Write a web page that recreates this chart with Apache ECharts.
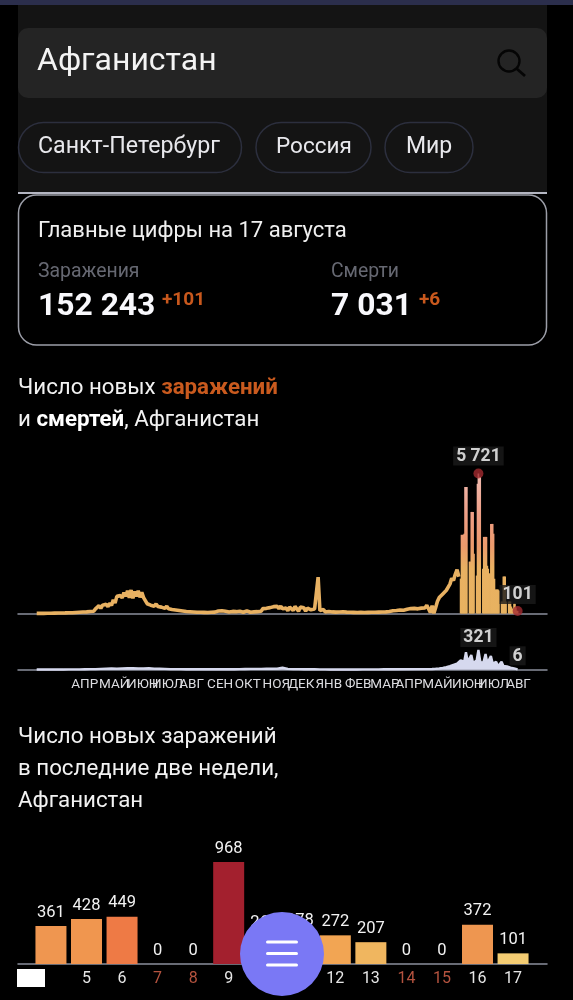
<!DOCTYPE html>
<html><head><meta charset="utf-8">
<style>html,body{margin:0;padding:0;background:#000}#c{width:573px;height:1000px}</style>
<script src="https://cdn.jsdelivr.net/npm/echarts@6/dist/echarts.min.js"></script>
</head><body><div id="c"></div>
<script>
// Daily new cases, read every 2 days from day 0 (24 Feb 2020) up to day 474
const caseValuesEarly = [
5,5,5,5,5,8,8,10,10,12, 14,16,18,22,20,26,24,30,32,28,
30,36,44,40,52,48,60,56,66,72, 80,110,90,190,170,320,210,340,300,380,
280,420,330,560,430,700,620,730,640,860, 700,930,640,960,620,900,700,930,660,860,
650,600,400,470,340,420,300,390,290,350, 260,320,210,300,190,270,160,240,140,210,
120,190,100,160,80,140,70,120,60,110, 50,100,50,90,45,85,40,80,50,95,
55,70,100,50,110,50,90,40,65,40, 85,50,75,45,95,105,50,75,110,60,
50,105,65,135,75,150,95,200,120,210, 170,240,190,280,220,290,200,300,190,260,
220,110,260,200,120,290,220,90,260,180, 230,100,220,180,150,90,180,150,1485,120,
110,160,65,135,85,125,65,105,55,85, 60,50,70,45,55,40,50,40,45,35,
40,35,45,35,40,40,45,40,50,45, 50,45,55,50,60,50,65,70,80,70,
110,90,120,100,140,170,130,200,170,220, 200,230,210,240,190,250,220,260,230,340,
300,40,320,10,250,500,650,580,800,830, 950,1000,1200,1440,1350,1600,1790,1500];
// Daily new cases from day 476 to day 540 (17 Aug 2021)
const caseValuesLate = [
1425,3215,3215,3215,3260,5170,5170,5170,0,0,
2120,2120,4150,4150,4150,2440,0,0,1550,5300,
5721,5580,5580,0,0,1830,3130,3130,3130,3130,
1950,1830,1630,1630,3660,3660,3660,3260,1420,980,
980,980,980,940,0,0,490,490,1510,1510,
1510,490,0,0,490,490,490,285,200,200,
410,410,245,120,101];
// Daily deaths
const deathValuesEarly = [
3,3,3,3,3,4,5,6,6,8,9,10,14,18,20,17,21,24,26,21,22,25,17,16,13,10,9,10,8,8,
7,8,7,8,7,9,8,8,10,12,14,13,14,17,16,18,34,14,10,9,8,7,7,5,5,4,4,4,4,
5,4,5,5,6,6,8,9,8];
const deathValuesLate = [
10,12,12,14,16,18,22,24,30,34,42,50,58,66,80,
90,100,120,150,160,130,285,130,100,240,110,100,150,321,140,100,140,256,110,100,224,
100,70,128,55,50,128,60,40,55,45,35,28,22,14,6];
const monthNames = ['АПР','МАЙ','ИЮН','ИЮЛ','АВГ','СЕН','ОКТ','НОЯ','ДЕК','ЯНВ','ФЕВ','МАР','АПР','МАЙ','ИЮН','ИЮЛ','АВГ'];
const monthDays = [54,87,119,147,174,206,237,269,297,328,361,391,418,450,484,513,541];
// Last two weeks
const recentDays = [4,5,6,7,8,9,10,11,12,13,14,15,16,17];
const recentValues = [361,428,449,0,0,968,265,278,272,207,0,0,372,101];
const recentColors = ['#ef9650','#f0964f','#ee7a45','#f3cc72','#f3cc72','#a3202e','#f2a553','#f2a553','#f2a553','#f0b65f','#f3cc72','#f3cc72','#ee9650','#f3cc72'];
const redDays = [7,8,14,15];
const labelledDays = [5,6,7,8,9,10,11,12,13,14,15,16,17];

const FONT = 'Roboto, sans-serif';
const casesLine = caseValuesEarly.map((v,i)=>[i*2,v]);
const casesBars = caseValuesLate.map((v,i)=>[476+i,v]);
const deathLine = deathValuesEarly.map((v,i)=>[i*6,v]).concat(deathValuesLate.slice(0,15).map((v,i)=>[440+i*2,v]),deathValuesLate.slice(15).map((v,i)=>[470+i*2,v]));

function T(x,y,text,size,color,weight,extra){
  return Object.assign({type:'text',x,y:y+2,z:50,style:{text,fill:color,font:(weight||400)+' '+size+'px '+FONT,textVerticalAlign:'middle',textBaseline:'middle'}},extra||{});
}
function R(x,y,w,h,r,fill,stroke,lw){
  return {type:'rect',z:10,shape:{x,y,width:w,height:h,r},style:{fill,stroke:stroke||null,lineWidth:lw||0}};
}
function richT(x,y,text,rich){return {type:'text',x,y:y+2,z:50,style:{text,rich,textVerticalAlign:'middle',textBaseline:'middle'}};}
const tw={fontFamily:'Roboto',fontSize:22.3,fill:'#f2f2f2',color:'#f2f2f2'};
const rich={
 a:Object.assign({},tw),
 o:Object.assign({},tw,{fontWeight:700,fill:'#c95a1e',color:'#c95a1e'}),
 b:Object.assign({},tw,{fontWeight:700,fill:'#ffffff',color:'#ffffff'})
};
const ui=[
 R(0,0,573,5,0,'#2b2e4c'),
 R(18,5,529,187,0,'#141414'),
 R(18,28,529,70,10,'#242424'),
 T(37,60,'Афганистан',32,'#f4f4f4'),
 {type:'circle',z:20,shape:{cx:509,cy:61,r:10.5},style:{fill:'none',stroke:'#050505',lineWidth:2.4}},
 {type:'line',z:20,shape:{x1:516.5,y1:68.5,x2:525,y2:76},style:{stroke:'#050505',lineWidth:2.8}},
 R(18.5,122.5,223,50,25,'#141414','#2c2f3e',1.5),
 R(256,122.5,115,50,25,'#141414','#2c2f3e',1.5),
 R(385,122.5,88,50,25,'#141414','#2c2f3e',1.5),
 T(38,145,'Санкт-Петербург',23.2,'#e8e8ec'),
 T(276,145,'Россия',22.5,'#e8e8ec'),
 T(406,145,'Мир',23,'#e8e8ec'),
 R(18,192,529,2,0,'#b4b6c2'),
 R(18.5,195,528,150,18,'#000','#9c9ea8',1.5),
 T(38,229,'Главные цифры на 17 августа',22,'#f0f0f0'),
 T(38,270,'Заражения',19.4,'#666872'),
 T(331,270,'Смерти',19.4,'#666872'),
 T(38,305,'152 243',31.8,'#f8f8fc',700),
 T(331,305,'7 031',31.8,'#f8f8fc',700),
 T(162,298,'+101',19,'#c8581d',700),
 T(419,298,'+6',19,'#c8581d',700),
 richT(18,386,'{a|Число новых }{o|заражений}',rich),
 richT(18,418,'{a|и }{b|смертей}{a|, Афганистан}',rich),
 T(18,735,'Число новых заражений',22.3,'#f2f2f2'),
 T(18,767,'в последние две недели,',22.3,'#f2f2f2'),
 T(18,799,'Афганистан',22.3,'#f2f2f2'),
 R(17,969,28,18,0,'#ffffff'),
 {type:'circle',z:100,shape:{cx:282,cy:954,r:42},style:{fill:'#7a78f5'}},
 {type:'rect',z:101,shape:{x:266,y:940.5,width:32,height:3,r:1.5},style:{fill:'#fff'}},
 {type:'rect',z:101,shape:{x:266,y:952,width:32,height:3,r:1.5},style:{fill:'#fff'}},
 {type:'rect',z:101,shape:{x:266,y:963.5,width:32,height:3,r:1.5},style:{fill:'#fff'}}
];
const axisLine={show:true,onZero:true,lineStyle:{color:'#8b8e9c',width:1.5}};
const barGradient={type:'linear',x:0,y:473,x2:0,y2:613,global:true,colorStops:[
 {offset:0,color:'#f0bcb2'},{offset:.3,color:'#ef9f86'},{offset:.52,color:'#ec9a6c'},{offset:.68,color:'#e9b162'},{offset:1,color:'#e8b260'}]};
function dayAxis(i,labels){return {gridIndex:i,type:'value',min:-21,max:573,splitLine:{show:false},axisTick:{show:false},axisLine,
  axisLabel:labels?{show:true,customValues:[-21].concat(monthDays,[573]),margin:8,fontSize:13.5,color:'#dcdce0',fontFamily:FONT,hideOverlap:false,
     formatter:v=>monthNames[monthDays.indexOf(v)]||''}:{show:false}};}
const markLabel=(text,dy)=>({show:true,formatter:text,position:'top',distance:dy,color:'#fff',fontSize:17.5,fontWeight:700,fontFamily:FONT,backgroundColor:'#1a1a1a',padding:[1,3,0,3]});

const chart=echarts.init(document.getElementById('c'),null,{renderer:'canvas',width:573,height:1000});
chart.setOption({
 backgroundColor:'#000',animation:false,
 graphic:{elements:ui},
 grid:[
  {left:18,width:529,top:473.5,height:140},
  {left:18,width:529,top:650,height:19.7},
  {left:18,width:529,top:862,height:102}
 ],
 xAxis:[dayAxis(0,false),dayAxis(1,true),
  {gridIndex:2,type:'value',min:3.073,max:17.955,splitLine:{show:false},axisTick:{show:false},axisLine,
   axisLabel:{show:true,customValues:labelledDays,margin:7,fontFamily:FONT,fontSize:16,color:'#e6e6e6',hideOverlap:false,
    formatter:v=>redDays.includes(v)?'{r|'+v+'}':String(v),rich:{r:{color:'#b5533f',fontSize:16,fontFamily:FONT}}}}],
 yAxis:[
  {gridIndex:0,type:'value',min:0,max:5721,show:false},
  {gridIndex:1,type:'value',min:0,max:321,show:false},
  {gridIndex:2,type:'value',min:0,max:968,show:false}],
 series:[
  {type:'line',xAxisIndex:0,yAxisIndex:0,data:casesLine,showSymbol:false,lineStyle:{color:'#e8b162',width:3.6},clip:false,z:2},
  {type:'bar',xAxisIndex:0,yAxisIndex:0,data:casesBars,barWidth:1.7,itemStyle:{color:barGradient},z:3},
  {type:'scatter',xAxisIndex:0,yAxisIndex:0,data:[[496,5721]],symbolSize:10,itemStyle:{color:'#a32a30'},clip:false,z:5,label:markLabel('5 721',3)},
  {type:'scatter',xAxisIndex:0,yAxisIndex:0,data:[[540,101]],symbolSize:10,itemStyle:{color:'#a32a30'},clip:false,z:5,label:markLabel('101',2)},
  {type:'line',xAxisIndex:1,yAxisIndex:1,data:deathLine,showSymbol:false,lineStyle:{color:'#d6d9ee',width:2.4},areaStyle:{color:'#d6d9ee',opacity:1},clip:false,z:2},
  {type:'scatter',xAxisIndex:1,yAxisIndex:1,data:[[496,321]],symbolSize:0,clip:false,z:5,label:markLabel('321',3)},
  {type:'scatter',xAxisIndex:1,yAxisIndex:1,data:[[540,6]],symbolSize:0,clip:false,z:5,label:markLabel('6',4)},
  {type:'bar',xAxisIndex:2,yAxisIndex:2,barWidth:31,clip:false,z:2,
   data:recentDays.map((d,i)=>({value:[d,recentValues[i]],itemStyle:{color:recentColors[i]}})),
   label:{show:true,position:'top',distance:5,color:'#f2f2f2',fontSize:16.5,fontFamily:FONT,formatter:p=>String(p.value[1])}}
 ]
});
</script></body></html>
